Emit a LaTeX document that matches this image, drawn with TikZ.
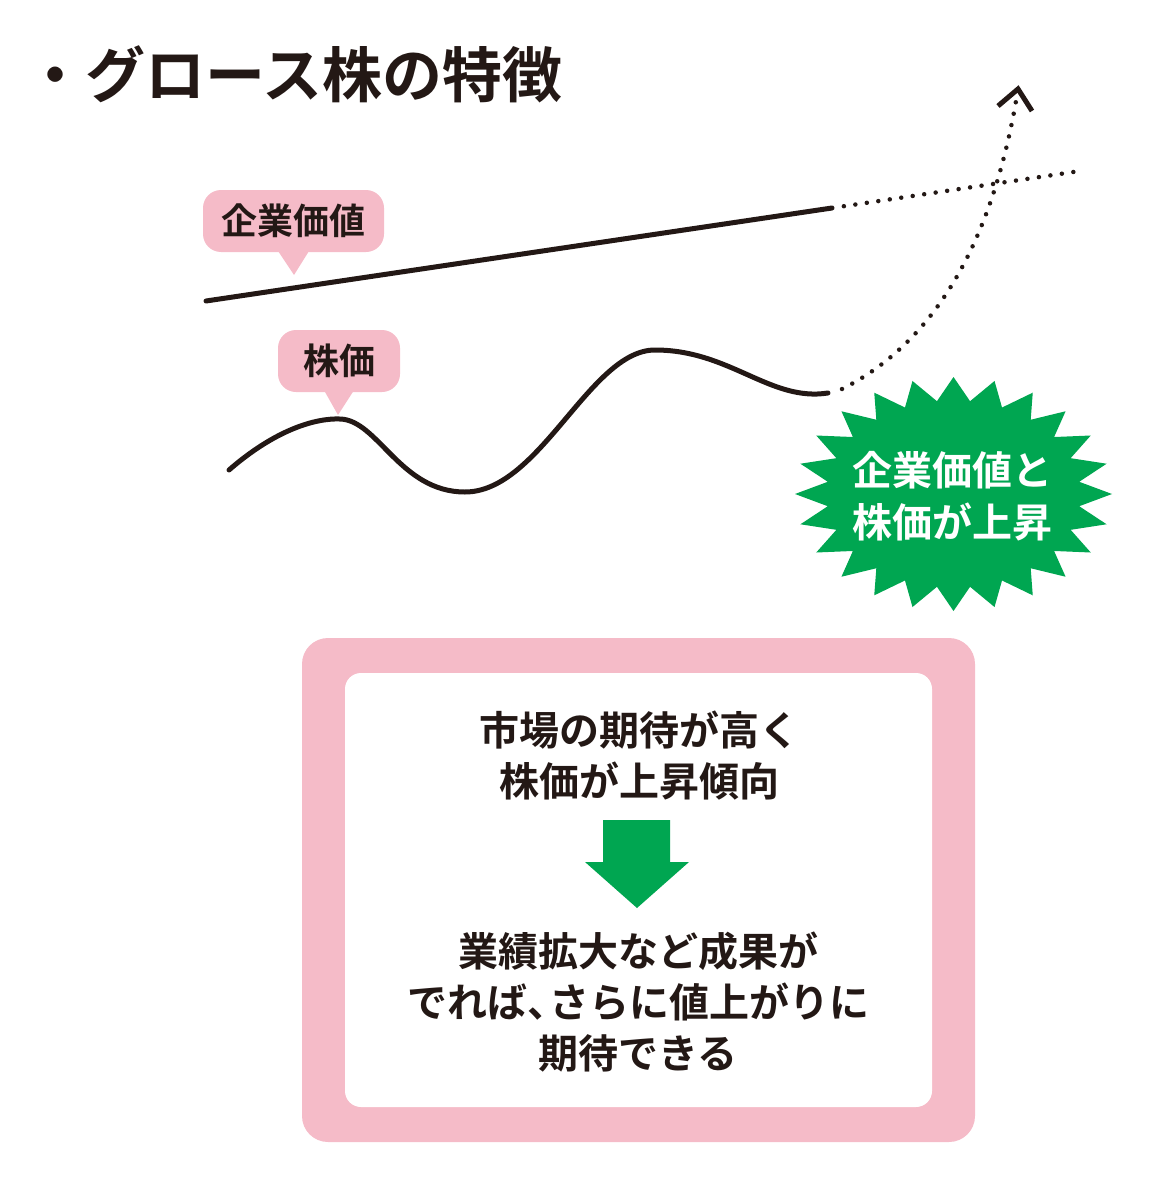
\documentclass[tikz,border=0pt]{standalone}
\usepackage{fontspec}
\usepackage{tikz}
\usetikzlibrary{calc}
\newfontfamily\jpfont{Noto Sans CJK JP Bold}
\definecolor{rose}{RGB}{245,187,200}
\definecolor{vert}{RGB}{0,166,81}
\definecolor{encre}{RGB}{35,24,21}
\newcommand{\taille}[2]{\fontsize{#1}{#2}\selectfont}

\begin{document}
\begin{tikzpicture}[x=1pt, y=-1pt,
  every node/.style = {draw=none, align=center, inner sep=0pt,
    text=encre, font=\jpfont},
  titre/.style = {font=\jpfont\taille{60}{70}},
  bulle/.style = {fill=rose, rounded corners=18pt, minimum height=62pt,
    font=\jpfont\taille{36}{44}},
  texte/.style = {font=\jpfont\taille{40}{51}},
  courbe/.style = {draw=encre, line width=5pt, line cap=round},
  pointille/.style = {draw=encre, line width=4.5pt, line cap=round,
    dash pattern=on 0pt off 11.6pt}]
  \useasboundingbox (0,0) rectangle (1158,1180);

  \node[titre, anchor=west] (titre) at (25,74) {・グロース株の特徴};

  \node[bulle, minimum width=181pt] (valeur) at (293.5,221) {企業価値};
  \fill[rose] ([xshift=-16pt, yshift=2pt]valeur.south) -- (294,275)
    -- ([xshift=16pt, yshift=2pt]valeur.south) -- cycle;
  \node[bulle, minimum width=122pt] (cours) at (339,361) {株価};
  \fill[rose] ([xshift=-15pt, yshift=2pt]cours.south) -- (338,415)
    -- ([xshift=15pt, yshift=2pt]cours.south) -- cycle;

  \coordinate (v0) at (206,301);
  \coordinate (v1) at (832,208);
  \coordinate (v2) at (1080,171);
  \draw[courbe] (v0) -- (v1);
  \draw[pointille] ($(v1)!12pt!(v2)$) -- (v2);

  \coordinate (c0) at (229,470);
  \coordinate (c1) at (828,393);
  \coordinate (c2) at (1016,101);
  \draw[courbe] (c0) .. controls (275,430) and (315,418) .. (340,419)
    .. controls (378,420) and (400,492) .. (465,492)
    .. controls (540,492) and (590,350) .. (655,350)
    .. controls (730,350) and (770,402) .. (c1);
  \draw[pointille] (842,389) .. controls (930,345) and (990,250) .. (c2);
  \draw[courbe, line cap=butt] (998,106) -- (1018,89) -- (1032,111);

  \fill[vert] (1112,494) \foreach \i [evaluate=\i as \r using {mod(\i,2)==0 ? 1 : 0.8}] in {1,...,47} {
    -- ({953.5+158.5*\r*cos(7.5*\i)},{494+117*\r*sin(7.5*\i)})} -- cycle;
  \node[texte, text=white, font=\jpfont\taille{40}{52}] (hausse) at (952,496)
    {企業価値と\\株価が上昇};

  \node[fill=rose, rounded corners=26pt, minimum width=673pt, minimum height=504pt]
    (cadre) at (638.5,890) {};
  \node[fill=white, rounded corners=16pt, minimum width=587pt, minimum height=434pt]
    (fond) at (638.5,890) {};
  \node[texte] (attente) at (639,756) {市場の期待が高く\\株価が上昇傾向};
  \fill[vert] (603,820) -- (670,820) -- (670,862) -- (689,862) -- (637,908)
    -- (585,862) -- (603,862) -- cycle;
  \node[texte] (resultat) at (638,1002)
    {業績拡大など成果が\\でれば、\hspace{-0.45em}さらに値上がりに\\期待できる};
\end{tikzpicture}
\end{document}
